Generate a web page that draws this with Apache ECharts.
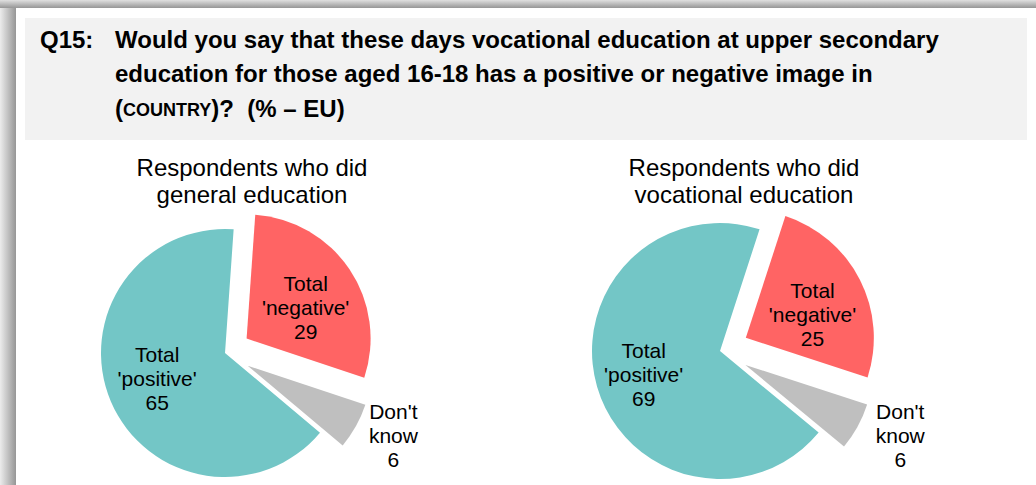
<!DOCTYPE html>
<html>
<head>
<meta charset="utf-8">
<script src="https://cdn.jsdelivr.net/npm/echarts@6/dist/echarts.min.js"></script>
<style>
html,body{margin:0;padding:0;background:#fff;}
#chart{width:1036px;height:485px;}
</style>
</head>
<body>
<div id="chart"></div>
<script>
// ---- data ----
const categories = ["Total 'negative'", "Don't know", "Total 'positive'"];
const generalValues = [29, 6, 65];
const vocationalValues = [25, 6, 69];
const pieTitles = ["Respondents who did\ngeneral education", "Respondents who did\nvocational education"];
const questionLabel = "Q15:";
const questionLines = [
  "Would you say that these days vocational education at upper secondary",
  "education for those aged 16-18 has a positive or negative image in"
];
const questionLast = ["(", "COUNTRY", ")?  (% \u2013 EU)"];

const colors = ['#FF6464', '#BFBFBF', '#73C6C6'];
const FONT = "'Liberation Sans', Arial, Helvetica, sans-serif";

function labelText(p) {
  return p.name.replace(' ', '\n') + '\n' + p.value;
}

function buildPie(values, center, radius, startAngle, offset, dkLen, dkDist, shifts) {
  return {
    type: 'pie',
    center: center,
    radius: radius,
    startAngle: startAngle,
    clockwise: true,
    selectedMode: 'multiple',
    selectedOffset: offset,
    avoidLabelOverlap: false,
    animation: false,
    emphasis: {disabled: true},
    label: {
      show: true, position: 'inside', color: '#000', fontFamily: FONT,
      fontSize: 21, lineHeight: 24, formatter: labelText
    },
    labelLine: {show: false},
    labelLayout: function (p) {
      const s = shifts[p.dataIndex];
      return s ? {dx: s[0], dy: s[1]} : {};
    },
    data: categories.map((c, i) => {
      const item = {name: c, value: values[i], itemStyle: {color: colors[i]}};
      if (i < 2) item.selected = true;
      if (i === 1) {
        item.label = {
          position: 'outside', distanceToLabelLine: dkDist,
          formatter: p => p.name.split(' ').concat([String(p.value)]).map(s => '{d|' + s + '}').join('\n'),
          rich: {d: {width: 52, align: 'center', fontSize: 21, lineHeight: 24, color: '#000', fontFamily: FONT}}
        };
        item.labelLine = {show: false, length: dkLen, length2: 0};
      }
      return item;
    })
  };
}

const chart = echarts.init(document.getElementById('chart'), null, {renderer: 'svg'});
chart.setOption({
  backgroundColor: '#fff',
  animation: false,
  graphic: [
    {type: 'rect', shape: {x: 0, y: 0, width: 16, height: 485}, silent: true,
     style: {fill: {type: 'linear', x: 0, y: 0, x2: 1, y2: 0, colorStops: [{offset: 0, color: '#ececec'}, {offset: 1, color: '#969696'}]}}},
    {type: 'rect', shape: {x: 0, y: 0, width: 1036, height: 8}, silent: true,
     style: {fill: {type: 'linear', x: 0, y: 0, x2: 0, y2: 1, colorStops: [{offset: 0, color: '#e0e0e0'}, {offset: 1, color: '#969696'}]}}},
    {type: 'rect', shape: {x: 25, y: 18, width: 1002, height: 122}, silent: true, style: {fill: '#F2F2F2'}}
  ],
  title: [
    {text: questionLabel, left: 40, top: 22, padding: 0,
     textStyle: {fontFamily: FONT, fontSize: 24, fontWeight: 'bold', color: '#000', lineHeight: 34.5}},
    {text: questionLines.join('\n') + '\n{p|' + questionLast[0] + '}{sc|' + questionLast[1] + '}{p|' + questionLast[2] + '}',
     left: 115, top: 22, padding: 0,
     textStyle: {fontFamily: FONT, fontSize: 24, fontWeight: 'bold', color: '#000', lineHeight: 34.5,
       rich: {
         p: {fontFamily: FONT, fontSize: 24, fontWeight: 'bold', color: '#000', lineHeight: 34.5},
         sc: {fontFamily: FONT, fontSize: 18, fontWeight: 'bold', color: '#000', lineHeight: 34.5, padding: [3, 0, 0, 0]}
       }}},
    {text: pieTitles[0], left: 252, top: 154, padding: 0, textAlign: 'center',
     textStyle: {fontFamily: FONT, fontSize: 24, fontWeight: 'normal', color: '#000', lineHeight: 27}},
    {text: pieTitles[1], left: 744, top: 154, padding: 0, textAlign: 'center',
     textStyle: {fontFamily: FONT, fontSize: 24, fontWeight: 'normal', color: '#000', lineHeight: 27}}
  ],
  series: [
    buildPie(generalValues, [225, 353], 124, 86, 26, 20, -6, {0: [5, 5], 2: [-8, 0]}),
    buildPie(vocationalValues, [720, 351], 128, 72, 29, 19, 0, {0: [7, 7], 2: [-12, 5]})
  ]
});
</script>
</body>
</html>
